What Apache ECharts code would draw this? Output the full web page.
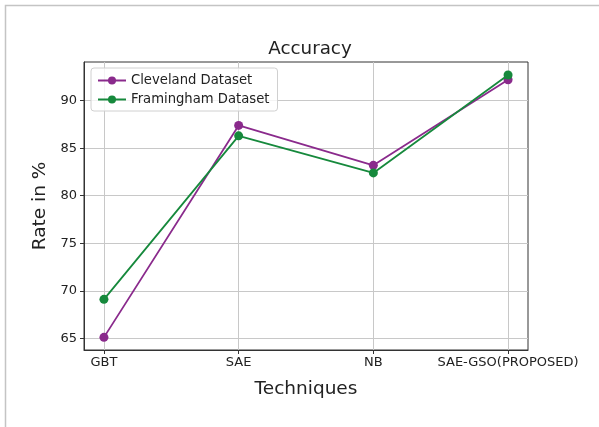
<!DOCTYPE html>
<html><head><meta charset="utf-8">
<script src="https://cdn.jsdelivr.net/npm/echarts@6/dist/echarts.min.js"></script>
<style>html,body{margin:0;padding:0;background:#fff}#c{width:599px;height:427px}</style>
</head><body><div id="c"></div>
<script>
const categories = ['GBT', 'SAE', 'NB', 'SAE-GSO(PROPOSED)'];
const cleveland = [65.1, 87.4, 83.2, 92.2];
const framingham = [69.1, 86.3, 82.4, 92.7];
const yTicks = [65, 70, 75, 80, 85, 90];
const xTicks = [0, 1, 2, 3];

const font = 'DejaVu Sans';
const chart = echarts.init(document.getElementById('c'), null, {renderer: 'canvas'});
chart.setOption({
  animation: false,
  backgroundColor: '#fff',
  title: {text: 'Accuracy', left: 305, top: 35, textAlign: 'center',
    textStyle: {fontFamily: font, fontSize: 18.3, fontWeight: 'normal', color: '#222'}},
  grid: {left: 84, right: 71, top: 62, bottom: 77, show: true, borderColor: '#333', borderWidth: 1, backgroundColor: 'transparent'},
  legend: {
    left: 91, top: 68, orient: 'vertical', itemGap: 6, itemWidth: 28, itemHeight: 10,
    padding: [6, 8, 5, 6], borderColor: '#d0d0d0', borderWidth: 1, borderRadius: 3, backgroundColor: 'rgba(255,255,255,0.8)',
    textStyle: {fontFamily: font, fontSize: 13.2, color: '#222'},
    data: ['Cleveland Dataset', 'Framingham Dataset']
  },
  xAxis: {
    type: 'value', min: -0.148, max: 3.148,
    name: 'Techniques', nameLocation: 'middle', nameGap: 30,
    nameTextStyle: {fontFamily: font, fontSize: 18.5, color: '#222'},
    axisLine: {show: true, onZero: false, lineStyle: {color: '#333'}},
    axisTick: {show: true, length: 4, customValues: xTicks, lineStyle: {color: '#333'}},
    axisLabel: {customValues: xTicks, fontFamily: font, fontSize: 13, color: '#222', margin: 6,
      formatter: v => categories[Math.round(v)]},
    splitLine: {show: true, lineStyle: {color: '#c8c8c8', width: 1}}
  },
  yAxis: {
    type: 'value', min: 63.77, max: 94.07,
    name: 'Rate in %', nameLocation: 'middle', nameGap: 34,
    nameTextStyle: {fontFamily: font, fontSize: 18.5, color: '#222'},
    axisLine: {show: true, onZero: false, lineStyle: {color: '#333'}},
    axisTick: {show: true, length: 4, customValues: yTicks, lineStyle: {color: '#333'}},
    axisLabel: {customValues: yTicks, fontFamily: font, fontSize: 13, color: '#222', margin: 7},
    splitLine: {show: true, lineStyle: {color: '#c8c8c8', width: 1}}
  },
  series: [
    {name: 'Cleveland Dataset', type: 'line', data: cleveland.map((v, i) => [xTicks[i], v]),
      symbol: 'circle', symbolSize: 9, color: '#8a2a8c', lineStyle: {width: 1.8}, z: 3},
    {name: 'Framingham Dataset', type: 'line', data: framingham.map((v, i) => [xTicks[i], v]),
      symbol: 'circle', symbolSize: 9, color: '#16893c', lineStyle: {width: 1.8}, z: 4}
  ],
  graphic: [
    {type: 'polyline', shape: {points: [[5.5, 427], [5.5, 5.5], [599, 5.5]]},
      style: {stroke: '#c4c4c4', lineWidth: 1.5, fill: null}, silent: true}
  ]
});
</script></body></html>
